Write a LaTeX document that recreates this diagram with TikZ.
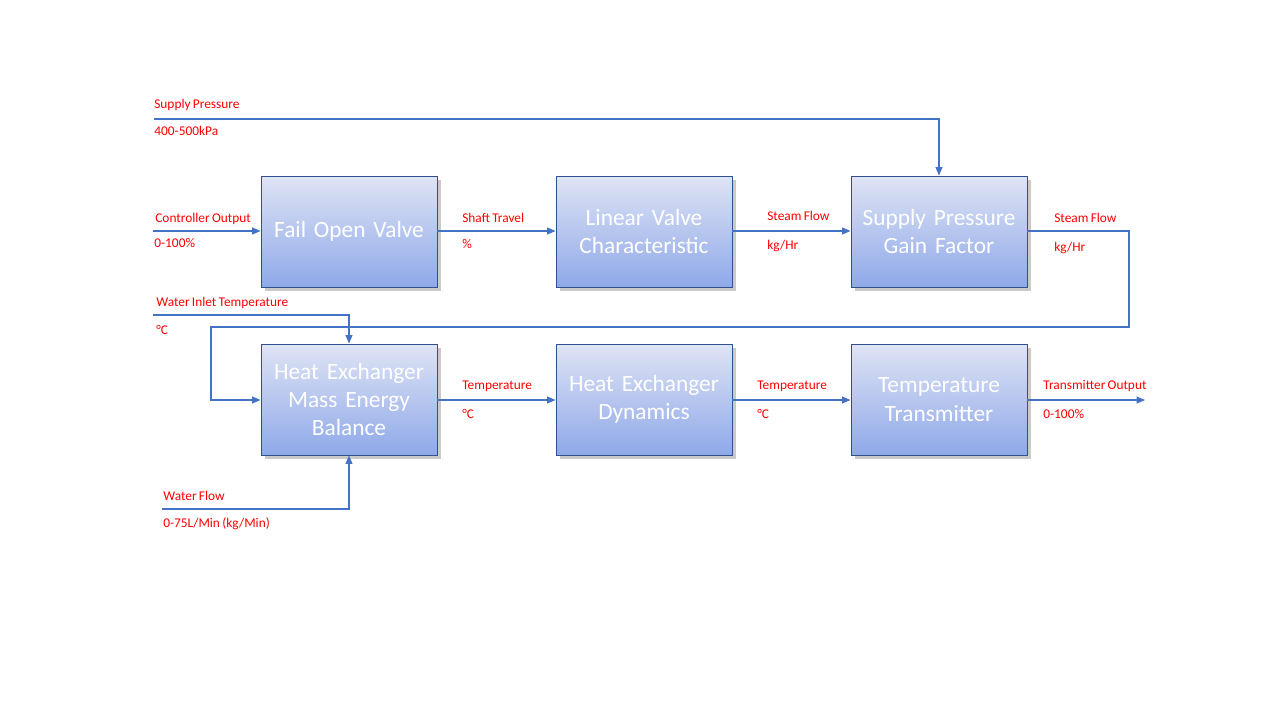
\documentclass[tikz,border=0pt]{standalone}
\usepackage{fontspec}
\setmainfont{Carlito}[WordSpace=0.75]
\usetikzlibrary{arrows.meta,shadows}
\definecolor{linkblue}{HTML}{4472C4}
\definecolor{boxedge}{HTML}{2F528F}
\definecolor{boxtop}{HTML}{DFE4F5}
\definecolor{boxbot}{HTML}{8EA8E8}
\tikzset{
  block/.style={draw=boxedge, line width=0.55pt, top color=boxtop, bottom color=boxbot,
    minimum width=3.52cm, minimum height=2.22cm, inner sep=0pt,
    text=white, align=center, text width=3.45cm,
    font=\fontsize{13.3}{16.2}\selectfont,
    drop shadow={shadow xshift=2pt, shadow yshift=-2pt, opacity=0.35, fill=black!60}},
  tag/.style={anchor=base west, inner sep=0pt, text=red, font=\fontsize{7.6}{9}\selectfont},
  link/.style={draw=linkblue, line width=0.6pt, -{Triangle[length=1.7mm, width=1.4mm]}}
}
\begin{document}
\begin{tikzpicture}[x=0.02cm, y=-0.02cm]
\useasboundingbox (0,0) rectangle (1280,720);

% blocks
\node[block] (fov) at (349,231.5){Fail Open Valve};
\node[block] (lvc) at (644,231.5){Linear Valve\\Characteristic};
\node[block] (spg) at (939,231.5){Supply Pressure\\Gain Factor};
\node[block] (hxb) at (349,399.5){Heat Exchanger\\Mass Energy\\Balance};
\node[block] (hxd) at (644,399.5){Heat Exchanger\\Dynamics};
\node[block] (tt) at (939,399.5){Temperature\\Transmitter};

% free ends
\coordinate (sp) at (154,119);
\coordinate (co) at (153,231);
\coordinate (wit) at (153,315);
\coordinate (wf) at (162,509);
\coordinate (out) at (1145,400);

% connectors
\draw[link] (sp) -| (spg.north);
\draw[link] (co) -- (fov.west |- co);
\draw[link] (fov.east |- co) -- (lvc.west |- co);
\draw[link] (lvc.east |- co) -- (spg.west |- co);
\draw[link] (spg.east |- co) -- (1129,231) -- (1129,327) -- (211,327) -- (211,400) -- (hxb.west |- out);
\draw[link] (wit) -| (hxb.north);
\draw[link] (wf) -| (hxb.south);
\draw[link] (hxb.east |- out) -- (hxd.west |- out);
\draw[link] (hxd.east |- out) -- (tt.west |- out);
\draw[link] (tt.east |- out) -- (out);

% labels
\node[tag] (l1) at (154,108){Supply Pressure};
\node[tag] (l2) at (154,135){400-500kPa};
\node[tag] (l3) at (155,222){Controller Output};
\node[tag] (l4) at (154,247){0-100\%};
\node[tag] (l5) at (462,222){Shaft Travel};
\node[tag] (l6) at (462,248){\%};
\node[tag] (l7) at (767,220){Steam Flow};
\node[tag] (l8) at (767,249){kg/Hr};
\node[tag] (l9) at (1054,222){Steam Flow};
\node[tag] (l10) at (1054,251){kg/Hr};
\node[tag] (l11) at (156,306){Water Inlet Temperature};
\node[tag] (l12) at (156,334){°C};
\node[tag] (l13) at (462,389){Temperature};
\node[tag] (l14) at (462,418){°C};
\node[tag] (l15) at (757,389){Temperature};
\node[tag] (l16) at (757,418){°C};
\node[tag] (l17) at (1043,389){Transmitter Output};
\node[tag] (l18) at (1043,418){0-100\%};
\node[tag] (l19) at (163,500){Water Flow};
\node[tag] (l20) at (163,527){0-75L/Min (kg/Min)};
\end{tikzpicture}
\end{document}
